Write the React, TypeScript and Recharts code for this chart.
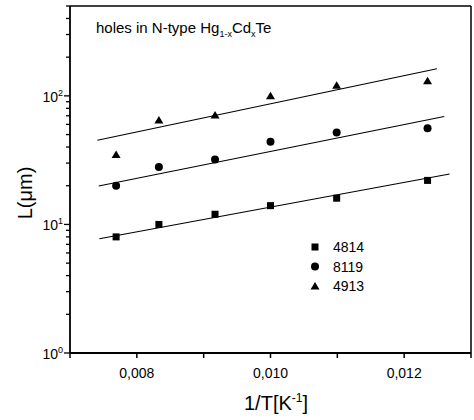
import React from 'react';
import { ScatterChart, Scatter, XAxis, YAxis, ReferenceLine, Legend, Label } from 'recharts';

const invT = [0.00769, 0.00833, 0.00917, 0.01, 0.01099, 0.01235];
const L4814 = [8, 10, 12, 14, 16, 22];
const L8119 = [20, 28, 32, 44, 52, 56];
const L4913 = [35, 65, 71, 100, 121, 131];

const fitX4814 = [0.00744, 0.01268];
const fitY4814 = [7.74, 24.7];
const fitX8119 = [0.00743, 0.0126];
const fitY8119 = [19.9, 69.1];
const fitX4913 = [0.00741, 0.01249];
const fitY4913 = [45.2, 162.6];

const xTicks = [0.007, 0.008, 0.009, 0.01, 0.011, 0.012, 0.013];
const xLabelTicks = [0.008, 0.01, 0.012];
const yTicks = [1, 2, 3, 4, 5, 6, 7, 8, 9, 10, 20, 30, 40, 50, 60, 70, 80, 90, 100, 200, 300, 400, 500];
const yMajor = [1, 10, 100];
const seriesNames = ['4814', '8119', '4913'];

const FONT = '"Liberation Sans", Arial, Helvetica, sans-serif';

const zip = (xs: number[], ys: number[]) => xs.map((x, i) => ({ x, y: ys[i] }));

const SquareShape = (p: any) => <rect x={p.cx - 3.5} y={p.cy - 3.5} width={7} height={7} fill="#000" />;
const CircleShape = (p: any) => <circle cx={p.cx} cy={p.cy} r={4} fill="#000" />;
const TriangleShape = (p: any) => (
  <polygon points={`${p.cx - 4.5},${p.cy + 3.5} ${p.cx + 4.5},${p.cy + 3.5} ${p.cx},${p.cy - 4}`} fill="#000" />
);
const NoShape = () => <g />;

const XTick = (props: any) => {
  const { x, y, payload } = props;
  const v = payload.value;
  const labeled = xLabelTicks.some((t) => Math.abs(t - v) < 1e-9);
  return (
    <g>
      <line x1={x} x2={x} y1={y} y2={y + 5} stroke="#000" strokeWidth={1.5} />
      {labeled && (
        <text x={x} y={y + 25} textAnchor="middle" fontSize={14} fontFamily={FONT} fill="#000">
          {v.toFixed(3).replace('.', ',')}
        </text>
      )}
    </g>
  );
};

const YTick = (props: any) => {
  const { x, y, payload } = props;
  const v = payload.value;
  const major = yMajor.includes(v);
  const exp = Math.round(Math.log10(v));
  return (
    <g>
      <line x1={x} x2={x - (major ? 6 : 4)} y1={y} y2={y} stroke="#000" strokeWidth={1.3} />
      {major && (
        <text x={x - 7} y={y + 6} textAnchor="end" fontSize={14} fontFamily={FONT} fill="#000">
          10
          <tspan dy={-6} fontSize={9}>{exp}</tspan>
        </text>
      )}
    </g>
  );
};

const shapes = [SquareShape, CircleShape, TriangleShape];

const LegendContent = () => (
  <svg width={80} height={60}>
    {seriesNames.map((n, i) => {
      const cy = 10 + i * 19.5;
      const S = shapes[i];
      return (
        <g key={n}>
          <S cx={10} cy={cy} />
          <text x={28} y={cy + 5} fontSize={14} fontFamily={FONT} fill="#000">{n}</text>
        </g>
      );
    })}
  </svg>
);

export default function App() {
  return (
    <div style={{ position: 'absolute', left: 0, top: 0, background: '#fff' }}>
      <ScatterChart width={474} height={420} margin={{ top: 6, right: 3, left: 0, bottom: 0 }}>
        <XAxis
          type="number"
          dataKey="x"
          domain={[0.007, 0.013]}
          ticks={xTicks}
          interval={0}
          height={67}
          tickSize={0}
          tickMargin={0}
          tickLine={false}
          tick={<XTick />}
          axisLine={{ stroke: '#000', strokeWidth: 1.8 }}
          allowDataOverflow
        >
          <Label
            content={() => (
              <text x={276} y={410} textAnchor="middle" fontSize={20} fontFamily={FONT} fill="#000">
                1/T[K
                <tspan dy={-8} fontSize={12}>-1</tspan>
                <tspan dy={8}>]</tspan>
              </text>
            )}
          />
        </XAxis>
        <YAxis
          type="number"
          dataKey="y"
          scale="log"
          domain={[1, 500]}
          ticks={yTicks}
          interval={0}
          width={70}
          tickSize={0}
          tickMargin={0}
          tickLine={false}
          tick={<YTick />}
          axisLine={{ stroke: '#000', strokeWidth: 1.8 }}
          allowDataOverflow
        >
          <Label
            content={() => (
              <text
                x={25}
                y={193}
                transform="rotate(-90 25 193)"
                textAnchor="middle"
                dominantBaseline="central"
                fontSize={20}
                fontFamily={FONT}
                fill="#000"
              >
                L(μm)
              </text>
            )}
          />
        </YAxis>
        <ReferenceLine y={500} stroke="#000" strokeWidth={1.5} />
        <ReferenceLine x={0.013} stroke="#000" strokeWidth={1.5} />
        <ReferenceLine
          y={400}
          stroke="none"
          label={() => (
            <text x={96} y={33} fontSize={15} fontFamily={FONT} fill="#000">
              holes in N-type Hg
              <tspan dy={4} fontSize={9}>1-x</tspan>
              <tspan dy={-4}>Cd</tspan>
              <tspan dy={4} fontSize={9}>x</tspan>
              <tspan dy={-4}>Te</tspan>
            </text>
          )}
        />
        <Scatter data={zip(fitX4814, fitY4814)} line={{ stroke: '#000', strokeWidth: 1.1 }} shape={NoShape} legendType="none" isAnimationActive={false} />
        <Scatter data={zip(fitX8119, fitY8119)} line={{ stroke: '#000', strokeWidth: 1.1 }} shape={NoShape} legendType="none" isAnimationActive={false} />
        <Scatter data={zip(fitX4913, fitY4913)} line={{ stroke: '#000', strokeWidth: 1.1 }} shape={NoShape} legendType="none" isAnimationActive={false} />
        <Scatter name="4814" data={zip(invT, L4814)} shape={SquareShape} isAnimationActive={false} />
        <Scatter name="8119" data={zip(invT, L8119)} shape={CircleShape} isAnimationActive={false} />
        <Scatter name="4913" data={zip(invT, L4913)} shape={TriangleShape} isAnimationActive={false} />
        <Legend
          layout="vertical"
          align="center"
          verticalAlign="middle"
          content={<LegendContent />}
          wrapperStyle={{ position: 'absolute', left: 305, top: 237, width: 80, height: 60 }}
        />
      </ScatterChart>
    </div>
  );
}
